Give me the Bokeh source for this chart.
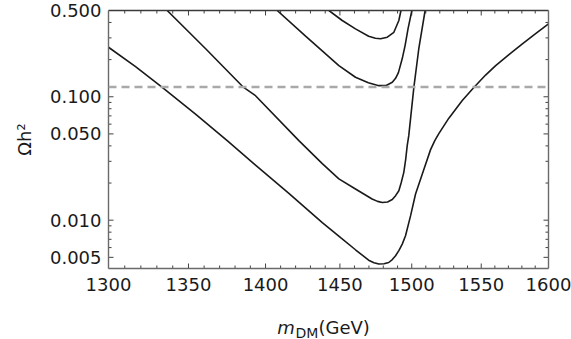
import math
from bokeh.plotting import figure
from bokeh.layouts import column
from bokeh.models import LogAxis, FixedTicker, PrintfTickFormatter, Label, Span
from bokeh.embed import file_html
from bokeh.resources import INLINE

# ---- data ----
m_curve1 = [1300, 1316.7, 1333.4, 1354.5, 1374.9, 1393.4, 1415.3, 1438.0, 1450.5,
            1460.7, 1469.8, 1473.5, 1476.9, 1480.5, 1483.8, 1486.3, 1488.6, 1491.0,
            1493.3, 1495.6, 1499.2, 1502.7, 1508.7, 1513.4, 1516.4, 1519.3, 1526.5,
            1536.2, 1544.6, 1553.2, 1560.6, 1570.4, 1580.4, 1590.3, 1600]
omega_curve1 = [0.252, 0.1757, 0.119, 0.0724, 0.0441, 0.0279, 0.01656, 0.00954, 0.00721,
                0.00576, 0.00474, 0.00452, 0.00441, 0.00443, 0.00454, 0.0048, 0.00515,
                0.0057, 0.0064, 0.00748, 0.01088, 0.0163, 0.0260, 0.0373, 0.0441, 0.0503,
                0.0671, 0.0932, 0.119, 0.1499, 0.179, 0.2198, 0.2685, 0.3254, 0.390]

m_curve2 = [1336.5, 1361.0, 1385.6, 1393.4, 1422.2, 1438.0, 1449.3, 1460.7, 1472.2,
            1476.0, 1479.3, 1483.0, 1486.3, 1488.6, 1490.9, 1492.5, 1494.4, 1495.7,
            1496.8, 1497.9, 1501.5, 1505.0, 1509.5]
omega_curve2 = [0.5, 0.245, 0.119, 0.102, 0.0441, 0.0287, 0.0216, 0.0179, 0.01486,
                0.0142, 0.0139, 0.01405, 0.0147, 0.0158, 0.0173, 0.0200, 0.0244, 0.031,
                0.0402, 0.0484, 0.119, 0.245, 0.5]

m_curve3 = [1407.7, 1426.7, 1449.3, 1460.7, 1469.6, 1476.9, 1482.0, 1486.3, 1488.6,
            1490.6, 1493.3, 1495.3, 1497.4, 1500.1]
omega_curve3 = [0.5, 0.31, 0.179, 0.144, 0.130, 0.123, 0.1235, 0.131, 0.141,
                0.157, 0.204, 0.260, 0.357, 0.5]

m_curve4 = [1442.5, 1451.6, 1460.7, 1469.8, 1474.5, 1478.1, 1482.8, 1487.4, 1490.9, 1492.4]
omega_curve4 = [0.5, 0.415, 0.355, 0.309, 0.298, 0.295, 0.304, 0.333, 0.415, 0.5]

omega_planck = 0.12

x_major = [1300, 1350, 1400, 1450, 1500, 1550, 1600]
x_minor = [v for v in range(1310, 1600, 10) if v % 50 != 0]
y_major = [0.005, 0.01, 0.05, 0.1, 0.5]
y_minor = [0.006, 0.007, 0.008, 0.009, 0.02, 0.03, 0.04,
           0.06, 0.07, 0.08, 0.09, 0.2, 0.3, 0.4]

X0, X1 = 1300, 1600
Y0, Y1 = 0.00406, 0.5
FRAME_W, FRAME_H = 440, 258

FONT = "DejaVu Sans"
FRAME = "#6a6a6a"
TICK = "#404040"
TXT = "#1a1a1a"

p = figure(width=571, height=300, x_axis_type="log", y_axis_type="log",
           x_range=(X0, X1), y_range=(Y0, Y1),
           output_backend="svg", toolbar_location=None, title=None,
           min_border_left=108, min_border_right=23, min_border_top=10,
           min_border_bottom=32)
p.outline_line_color = None
p.xgrid.visible = False
p.ygrid.visible = False
p.background_fill_color = "white"
p.border_fill_color = "white"


def style_axis(ax, major, fmt, show_labels, line_color=FRAME):
    ax.ticker = FixedTicker(ticks=major)
    ax.formatter = PrintfTickFormatter(format=fmt)
    ax.axis_line_color = line_color
    ax.axis_line_width = 1.4
    ax.major_tick_line_color = None
    ax.minor_tick_line_color = None
    ax.major_tick_in = 0
    ax.major_tick_out = 0
    ax.minor_tick_in = 0
    ax.minor_tick_out = 0
    if show_labels:
        ax.major_label_text_font = FONT
        ax.major_label_text_font_size = "18px"
        ax.major_label_text_color = TXT
    else:
        ax.major_label_text_font_size = "1px"
        ax.major_label_text_color = None
        ax.major_label_standoff = 0


xb = p.xaxis[0]
style_axis(xb, x_major, "%d", True)
xb.major_label_standoff = 9

yl = p.yaxis[0]
style_axis(yl, y_major, "%.3f", True)
yl.major_label_standoff = 7
yl.axis_label = "Ωh²"
yl.axis_label_text_font = FONT
yl.axis_label_text_font_size = "18px"
yl.axis_label_text_font_style = "normal"
yl.axis_label_text_color = TXT
yl.axis_label_standoff = 12

xt = LogAxis()
style_axis(xt, x_major, "%d", False, line_color="#3a3a3a")
p.add_layout(xt, "above")
yr = LogAxis()
style_axis(yr, y_major, "%.3f", False)
p.add_layout(yr, "right")

# inward frame ticks (lengths in pixels converted to log-axis factors)
xdec = FRAME_W / math.log10(X1 / X0)
ydec = FRAME_H / math.log10(Y1 / Y0)
fx = lambda L: 10 ** (L / xdec)
fy = lambda L: 10 ** (L / ydec)
for ticks, L in [(x_major, 5), (x_minor, 3)]:
    p.segment(x0=ticks, y0=[Y0] * len(ticks), x1=ticks, y1=[Y0 * fy(L)] * len(ticks),
              line_color=TICK, line_width=1)
    p.segment(x0=ticks, y0=[Y1] * len(ticks), x1=ticks, y1=[Y1 / fy(L)] * len(ticks),
              line_color=TICK, line_width=1)
for ticks, L in [(y_major, 5), (y_minor, 3)]:
    p.segment(x0=[X0] * len(ticks), y0=ticks, x1=[X0 * fx(L)] * len(ticks), y1=ticks,
              line_color=TICK, line_width=1)
    p.segment(x0=[X1] * len(ticks), y0=ticks, x1=[X1 / fx(L)] * len(ticks), y1=ticks,
              line_color=TICK, line_width=1)

# reference relic density line
p.add_layout(Span(location=omega_planck, dimension="width", line_color="#a9a9a9",
                  line_width=2.6, line_dash="8 5"))

for ms, om in [(m_curve1, omega_curve1), (m_curve2, omega_curve2),
               (m_curve3, omega_curve3), (m_curve4, omega_curve4)]:
    p.line(ms, om, line_color="#1a1a1a", line_width=1.6)

# strip below for the x-axis title m_DM(GeV); its frame is aligned with p's frame
p2 = figure(width=571, height=39, x_range=(0, 1), y_range=(0, 1),
            x_axis_location=None, y_axis_location=None,
            output_backend="svg", toolbar_location=None, title=None,
            min_border=0)
p2.outline_line_color = None
p2.grid.visible = False
p2.background_fill_color = "white"
p2.border_fill_color = "white"
p2.add_layout(Label(x=168.7, y=12.3, x_units="screen", y_units="screen", text="m",
                    text_font=FONT, text_font_size="18px", text_font_style="italic",
                    text_color=TXT, text_baseline="alphabetic"))
p2.add_layout(Label(x=187, y=7, x_units="screen", y_units="screen", text="DM",
                    text_font=FONT, text_font_size="14px",
                    text_color=TXT, text_baseline="alphabetic"))
p2.add_layout(Label(x=210, y=12.3, x_units="screen", y_units="screen", text="(GeV)",
                    text_font=FONT, text_font_size="18px",
                    text_color=TXT, text_baseline="alphabetic"))

layout = column(p, p2, spacing=0)
open("out.html", "w").write(file_html(layout, INLINE))
